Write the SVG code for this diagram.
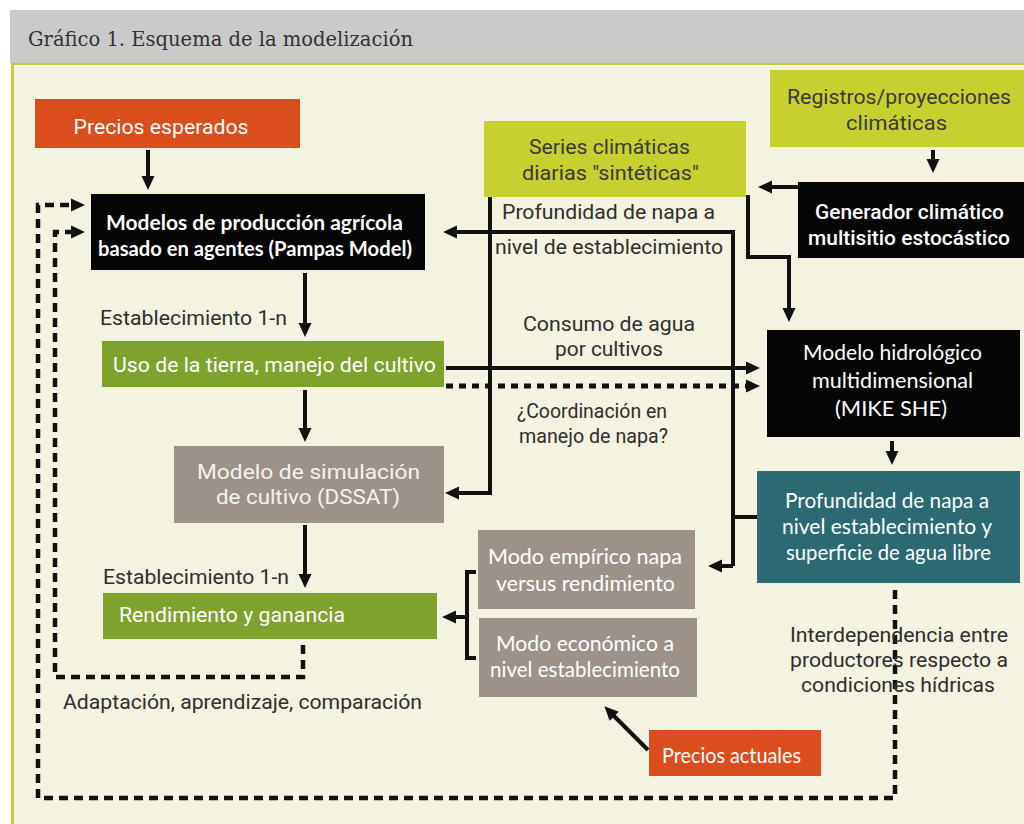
<svg xmlns="http://www.w3.org/2000/svg" width="1024" height="824" viewBox="0 0 1024 824">
<defs>
<style>
.r{font-family:Roboto,"Liberation Sans",sans-serif;font-size:20.5px}
.m{font-family:Lato,"Open Sans",sans-serif;font-size:21px}
.mb{font-family:Lato,"Open Sans",sans-serif;font-size:20px;font-weight:bold}
.med{font-family:Roboto,"Liberation Sans",sans-serif;font-size:20.5px;font-weight:500}
.w{fill:#ffffff}
.dk{fill:#3a3a3a}
.lb{fill:#2e2e2e}
.ln{fill:none;stroke:#111;stroke-width:4}
.ds{fill:none;stroke:#111;stroke-width:4.5;stroke-dasharray:9 6}
.dt{fill:none;stroke:#111;stroke-width:5;stroke-dasharray:7 6}
.orange{fill:#d94e1c}
.black{fill:#050505}
.lime{fill:#c6d02e}
.green{fill:#7ea22c}
.gray{fill:#9c928a}
.teal{fill:#2b6a71}
</style>
<marker id="ah" viewBox="0 0 14 14" markerUnits="userSpaceOnUse" markerWidth="14" markerHeight="14" refX="6" refY="7" orient="auto"><path d="M0,0.5 L14,7 L0,13.5 z" fill="#111"/></marker>
</defs>
<rect x="0" y="0" width="1024" height="824" fill="#ffffff"/>
<rect x="10" y="10" width="1014" height="53" fill="#cacaca"/>
<text x="28" y="46" textLength="385" lengthAdjust="spacingAndGlyphs" style="font-family:'DejaVu Serif','Liberation Serif',serif;font-size:21px" fill="#333">Gráfico 1. Esquema de la modelización</text>
<rect x="11" y="63" width="1013" height="761" fill="#f4f2e1"/>
<line x1="12.5" y1="63" x2="12.5" y2="824" stroke="#c8c93a" stroke-width="3"/>
<line x1="11" y1="64" x2="1024" y2="64" stroke="#c8c93a" stroke-width="2"/>

<g id="connectors">
<path class="ln" d="M148 150 V182" marker-end="url(#ah)"/>
<path class="ln" d="M933 150 V165" marker-end="url(#ah)"/>
<path class="ln" d="M798 187 H766" marker-end="url(#ah)"/>
<path class="ln" d="M748 195 V257 H789 V314" marker-end="url(#ah)"/>
<path class="ln" d="M757 517 H733"/>
<path class="ln" d="M733 566 V232 H451" marker-end="url(#ah)"/>
<path class="ln" d="M733 566 H716" marker-end="url(#ah)"/>
<path class="ln" d="M490 197 V493 H453" marker-end="url(#ah)"/>
<path class="ln" d="M446 368 H752" marker-end="url(#ah)"/>
<path class="dt" d="M446 386 H752" marker-end="url(#ah)"/>
<path class="ln" d="M305 273 V329" marker-end="url(#ah)"/>
<path class="ln" d="M305 390 V434" marker-end="url(#ah)"/>
<path class="ln" d="M305 525 V580" marker-end="url(#ah)"/>
<path class="ln" d="M892 441 V457" marker-end="url(#ah)"/>
<path class="ln" d="M476 572 H467 V658 H476"/>
<path class="ln" d="M467 617 H450" marker-end="url(#ah)"/>
<path class="ln" d="M648 750 L610 712" marker-end="url(#ah)"/>
<path class="ds" d="M303 645 V677 H55 V232 H77" marker-end="url(#ah)"/>
<path class="ds" d="M895 590 V798 H38 V205 H77" marker-end="url(#ah)"/>
</g>

<g id="precios_esperados">
<rect class="orange" x="35" y="99" width="265" height="49"/>
<text class="r w" x="73.5" y="134" textLength="175" lengthAdjust="spacingAndGlyphs">Precios esperados</text>
</g>
<g id="modelos_produccion">
<rect class="black" x="91" y="194" width="334" height="76"/>
<text class="mb w" x="106" y="230" textLength="297" lengthAdjust="spacingAndGlyphs">Modelos de producción agrícola</text>
<text class="mb w" x="98" y="256" textLength="314" lengthAdjust="spacingAndGlyphs">basado en agentes (Pampas Model)</text>
</g>
<g id="series_climaticas">
<rect class="lime" x="484" y="121" width="262" height="76"/>
<text class="r dk" x="529" y="154" textLength="161" lengthAdjust="spacingAndGlyphs">Series climáticas</text>
<text class="r dk" x="522" y="180" textLength="177" lengthAdjust="spacingAndGlyphs">diarias "sintéticas"</text>
</g>
<g id="registros">
<rect class="lime" x="770" y="70" width="254" height="77"/>
<text class="r dk" x="787" y="104" textLength="224" lengthAdjust="spacingAndGlyphs">Registros/proyecciones</text>
<text class="r dk" x="846" y="130" textLength="101" lengthAdjust="spacingAndGlyphs">climáticas</text>
</g>
<g id="generador">
<rect class="black" x="798" y="182" width="226" height="76"/>
<text class="med w" x="815" y="219" textLength="189" lengthAdjust="spacingAndGlyphs">Generador climático</text>
<text class="med w" x="808" y="245" textLength="202" lengthAdjust="spacingAndGlyphs">multisitio estocástico</text>
</g>
<g id="uso_tierra">
<rect class="green" x="102" y="341" width="342" height="46"/>
<text class="r w" x="113" y="372" textLength="323" lengthAdjust="spacingAndGlyphs">Uso de la tierra, manejo del cultivo</text>
</g>
<g id="modelo_hidrologico">
<rect class="black" x="767" y="330" width="253" height="107"/>
<text class="m w" x="803" y="360" textLength="179" lengthAdjust="spacingAndGlyphs">Modelo hidrológico</text>
<text class="m w" x="812" y="388" textLength="161" lengthAdjust="spacingAndGlyphs">multidimensional</text>
<text class="m w" x="835" y="416" textLength="112" lengthAdjust="spacingAndGlyphs">(MIKE SHE)</text>
</g>
<g id="modelo_simulacion">
<rect class="gray" x="174" y="446" width="270" height="77"/>
<text class="r" fill="#f4f2ee" x="197" y="479" textLength="223" lengthAdjust="spacingAndGlyphs">Modelo de simulación</text>
<text class="r" fill="#f4f2ee" x="216" y="504" textLength="184" lengthAdjust="spacingAndGlyphs">de cultivo (DSSAT)</text>
</g>
<g id="profundidad_napa">
<rect class="teal" x="757" y="471" width="263" height="112"/>
<text class="m w" x="785" y="508" textLength="204" lengthAdjust="spacingAndGlyphs">Profundidad de napa a</text>
<text class="m w" x="782" y="534" textLength="210" lengthAdjust="spacingAndGlyphs">nivel establecimiento y</text>
<text class="m w" x="786" y="560" textLength="205" lengthAdjust="spacingAndGlyphs">superficie de agua libre</text>
</g>
<g id="modo_empirico">
<rect class="gray" x="478" y="530" width="217" height="79"/>
<text class="m w" x="488" y="564" textLength="194" lengthAdjust="spacingAndGlyphs">Modo empírico napa</text>
<text class="m w" x="496" y="591" textLength="179" lengthAdjust="spacingAndGlyphs">versus rendimiento</text>
</g>
<g id="modo_economico">
<rect class="gray" x="479" y="618" width="218" height="79"/>
<text class="m w" x="496" y="651" textLength="178" lengthAdjust="spacingAndGlyphs">Modo económico a</text>
<text class="m w" x="490" y="677" textLength="190" lengthAdjust="spacingAndGlyphs">nivel establecimiento</text>
</g>
<g id="rendimiento">
<rect class="green" x="103" y="593" width="334" height="46"/>
<text class="r w" x="119" y="622" textLength="226" lengthAdjust="spacingAndGlyphs">Rendimiento y ganancia</text>
</g>
<g id="precios_actuales">
<rect class="orange" x="649" y="730" width="172" height="46"/>
<text class="m w" x="662" y="763" textLength="139" lengthAdjust="spacingAndGlyphs">Precios actuales</text>
</g>

<g id="labels">
<text class="r lb" x="100" y="325" textLength="187" lengthAdjust="spacingAndGlyphs">Establecimiento 1-n</text>
<text class="r lb" x="103" y="584" textLength="186" lengthAdjust="spacingAndGlyphs">Establecimiento 1-n</text>
<text class="r lb" x="502" y="219" textLength="213" lengthAdjust="spacingAndGlyphs">Profundidad de napa a</text>
<text class="r lb" x="495" y="254" textLength="228" lengthAdjust="spacingAndGlyphs">nivel de establecimiento</text>
<text class="r lb" x="523" y="331" textLength="172" lengthAdjust="spacingAndGlyphs">Consumo de agua</text>
<text class="r lb" x="555" y="356" textLength="108" lengthAdjust="spacingAndGlyphs">por cultivos</text>
<text class="r lb" x="517" y="418" textLength="150" lengthAdjust="spacingAndGlyphs">¿Coordinación en</text>
<text class="r lb" x="519" y="443" textLength="149" lengthAdjust="spacingAndGlyphs">manejo de napa?</text>
<text class="r lb" x="63" y="709" textLength="359" lengthAdjust="spacingAndGlyphs">Adaptación, aprendizaje, comparación</text>
<text class="r lb" x="790" y="642" textLength="218" lengthAdjust="spacingAndGlyphs">Interdependencia entre</text>
<text class="r lb" x="790" y="667" textLength="218" lengthAdjust="spacingAndGlyphs">productores respecto a</text>
<text class="r lb" x="801" y="692" textLength="194" lengthAdjust="spacingAndGlyphs">condiciones hídricas</text>
</g>
</svg>
